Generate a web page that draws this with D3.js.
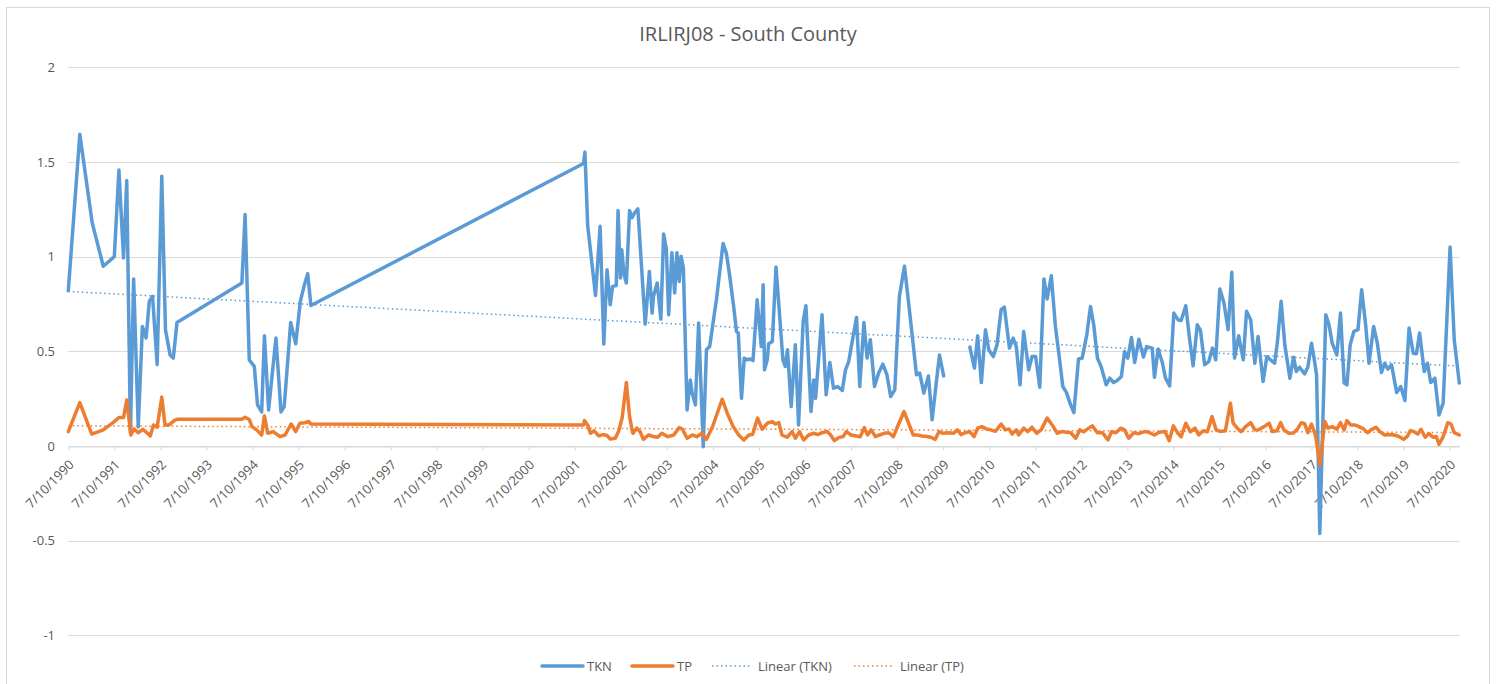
<!DOCTYPE html>
<html>
<head>
<meta charset="utf-8">
<script src="https://cdnjs.cloudflare.com/ajax/libs/d3/7.8.5/d3.min.js"></script>
<style>
body { margin: 0; background: #fff; }
text { font-family: "Open Sans", sans-serif; fill: #595959; }
</style>
</head>
<body>
<svg id="chart" width="1497" height="684"></svg>
<script>
// values, [decimal year, value]
var tkn = [
 [1990.52,0.82],[1990.77,1.646],[1991.04,1.178],[1991.28,0.949],[1991.52,1.0],[1991.62,1.457],[1991.72,0.993],[1991.79,1.402],
 [1991.87,0.07],[1991.94,0.882],[1992.04,0.10],[1992.13,0.631],[1992.21,0.571],[1992.28,0.764],[1992.35,0.79],[1992.45,0.43],
 [1992.55,1.425],[1992.63,0.614],[1992.73,0.481],[1992.80,0.464],[1992.88,0.652],
 [1994.29,0.861],[1994.36,1.222],[1994.45,0.455],[1994.56,0.42],[1994.63,0.217],[1994.72,0.18],[1994.78,0.582],[1994.87,0.19],
 [1995.03,0.57],[1995.14,0.18],[1995.21,0.208],[1995.35,0.652],[1995.46,0.54],[1995.56,0.764],[1995.64,0.843],[1995.72,0.91],[1995.79,0.742],
 [2001.71,1.492],[2001.74,1.552],[2001.80,1.164],[2001.97,0.795],[2002.07,1.16],[2002.15,0.538],[2002.22,0.931],[2002.29,0.746],
 [2002.34,0.843],[2002.42,0.847],[2002.46,1.243],[2002.51,0.887],[2002.54,1.037],[2002.59,0.905],[2002.64,0.861],[2002.71,1.243],
 [2002.76,1.205],[2002.82,1.231],[2002.89,1.252],[2003.05,0.644],[2003.14,0.922],[2003.20,0.702],[2003.23,0.79],[2003.31,0.861],
 [2003.39,0.670],[2003.45,1.12],[2003.51,1.037],[2003.56,0.693],[2003.63,1.02],[2003.69,0.808],[2003.74,1.02],[2003.79,0.869],
 [2003.83,1.002],[2003.88,0.94],[2003.96,0.19],[2004.03,0.349],[2004.07,0.279],[2004.14,0.217],[2004.21,0.649],[2004.31,-0.004],
 [2004.38,0.508],[2004.45,0.525],[2004.60,0.78],[2004.74,1.069],[2004.81,1.02],[2004.88,0.905],[2004.97,0.737],[2005.03,0.605],
 [2005.07,0.596],[2005.14,0.252],[2005.20,0.464],[2005.26,0.455],[2005.33,0.459],[2005.39,0.451],[2005.48,0.772],[2005.57,0.525],
 [2005.61,0.852],[2005.64,0.402],[2005.70,0.455],[2005.73,0.540],[2005.81,0.552],[2005.89,0.945],[2005.97,0.684],[2006.04,0.455],
 [2006.09,0.42],[2006.14,0.508],[2006.22,0.208],[2006.31,0.534],[2006.38,0.111],[2006.48,0.658],[2006.54,0.741],[2006.65,0.182],
 [2006.71,0.349],[2006.75,0.252],[2006.89,0.693],[2006.98,0.270],[2007.06,0.441],[2007.14,0.305],[2007.23,0.314],[2007.33,0.293],
 [2007.40,0.402],[2007.47,0.446],[2007.54,0.543],[2007.64,0.679],[2007.71,0.314],[2007.80,0.652],[2007.87,0.464],[2007.94,0.561],
 [2008.03,0.314],[2008.12,0.385],[2008.21,0.432],[2008.30,0.376],[2008.38,0.261],[2008.47,0.296],[2008.57,0.79],[2008.68,0.949],
 [2008.77,0.755],[2008.87,0.534],[2008.94,0.376],[2009.01,0.385],[2009.10,0.279],[2009.20,0.370],[2009.28,0.138],[2009.37,0.332],
 [2009.44,0.481],[2009.53,0.370],[2009.80,null],
 [2010.10,0.522],[2010.20,0.411],[2010.27,0.582],[2010.35,0.335],[2010.44,0.614],[2010.51,0.508],[2010.61,0.472],[2010.69,0.534],
 [2010.78,0.720],[2010.85,0.734],[2010.96,0.517],[2011.04,0.570],[2011.11,0.525],[2011.19,0.323],[2011.27,0.605],[2011.38,0.402],
 [2011.45,0.472],[2011.53,0.472],[2011.62,0.310],[2011.71,0.882],[2011.78,0.776],[2011.87,0.899],[2011.96,0.631],[2012.06,0.437],
 [2012.12,0.314],[2012.20,0.282],[2012.29,0.217],[2012.36,0.176],[2012.46,0.459],[2012.54,0.464],[2012.64,0.587],[2012.72,0.737],
 [2012.79,0.640],[2012.87,0.464],[2012.95,0.42],[2013.06,0.323],[2013.14,0.358],[2013.22,0.335],[2013.30,0.346],[2013.39,0.367],
 [2013.46,0.499],[2013.53,0.464],[2013.61,0.573],[2013.68,0.441],[2013.77,0.564],[2013.87,0.469],[2013.94,0.525],[2014.06,0.517],
 [2014.11,0.363],[2014.19,0.512],[2014.28,0.441],[2014.35,0.358],[2014.44,0.317],[2014.53,0.702],[2014.62,0.667],[2014.69,0.663],
 [2014.79,0.741],[2014.87,0.570],[2014.95,0.423],[2015.04,0.640],[2015.11,0.610],[2015.20,0.429],[2015.29,0.446],[2015.37,0.517],
 [2015.44,0.455],[2015.53,0.829],[2015.62,0.755],[2015.71,0.614],[2015.79,0.917],[2015.85,0.464],[2015.94,0.582],[2016.04,0.455],
 [2016.11,0.711],[2016.20,0.667],[2016.29,0.437],[2016.36,0.578],[2016.47,0.340],[2016.55,0.472],[2016.63,0.455],[2016.72,0.437],
 [2016.78,0.55],[2016.86,0.764],[2016.94,0.534],[2017.05,0.358],[2017.13,0.469],[2017.19,0.393],[2017.26,0.416],[2017.37,0.381],
 [2017.44,0.416],[2017.52,0.543],[2017.57,0.472],[2017.63,0.376],[2017.70,-0.462],[2017.83,0.693],[2017.90,0.640],[2017.97,0.543],
 [2018.07,0.481],[2018.15,0.702],[2018.23,0.332],[2018.29,0.323],[2018.36,0.534],[2018.44,0.605],[2018.53,0.614],[2018.61,0.825],
 [2018.70,0.631],[2018.77,0.437],[2018.87,0.631],[2018.95,0.543],[2019.04,0.388],[2019.11,0.437],[2019.18,0.406],[2019.26,0.429],
 [2019.37,0.282],[2019.46,0.314],[2019.55,0.240],[2019.64,0.623],[2019.73,0.490],[2019.80,0.487],[2019.87,0.596],[2019.97,0.393],
 [2020.04,0.437],[2020.11,0.335],[2020.20,0.358],[2020.29,0.164],[2020.38,0.226],[2020.53,1.051],[2020.62,0.561],[2020.73,0.332]
];

var tp = [
 [1990.52,0.076],[1990.77,0.229],[1991.03,0.063],[1991.28,0.085],[1991.52,0.129],[1991.62,0.150],[1991.72,0.150],[1991.79,0.243],
 [1991.88,0.058],[1991.95,0.09],[1992.04,0.070],[1992.14,0.088],[1992.24,0.067],[1992.30,0.053],[1992.37,0.111],[1992.45,0.099],
 [1992.55,0.258],[1992.62,0.111],[1992.71,0.111],[1992.82,0.134],[1992.88,0.141],
 [1994.29,0.141],[1994.36,0.152],[1994.45,0.14],[1994.51,0.102],[1994.61,0.085],[1994.72,0.058],[1994.78,0.159],[1994.85,0.067],
 [1994.97,0.076],[1995.12,0.049],[1995.23,0.058],[1995.36,0.116],[1995.46,0.076],[1995.55,0.120],[1995.66,0.123],[1995.74,0.129],[1995.79,0.116],
 [2001.71,0.111],[2001.73,0.134],[2001.80,0.11],[2001.86,0.067],[2001.94,0.08],[2002.04,0.053],[2002.14,0.06],[2002.22,0.055],
 [2002.29,0.037],[2002.40,0.041],[2002.47,0.076],[2002.55,0.15],[2002.64,0.335],[2002.71,0.155],[2002.78,0.067],[2002.87,0.094],
 [2002.94,0.075],[2003.01,0.035],[2003.12,0.058],[2003.22,0.05],[2003.32,0.046],[2003.41,0.067],[2003.54,0.049],[2003.67,0.058],
 [2003.79,0.097],[2003.86,0.088],[2003.96,0.041],[2004.07,0.058],[2004.17,0.049],[2004.28,0.067],[2004.38,0.035],[2004.51,0.1],
 [2004.72,0.247],[2004.83,0.173],[2004.96,0.102],[2005.08,0.058],[2005.19,0.032],[2005.30,0.058],[2005.38,0.06],[2005.49,0.147],
 [2005.59,0.088],[2005.70,0.120],[2005.81,0.129],[2005.88,0.116],[2005.95,0.123],[2006.02,0.058],[2006.13,0.046],[2006.24,0.076],
 [2006.31,0.041],[2006.40,0.076],[2006.49,0.032],[2006.60,0.058],[2006.71,0.067],[2006.80,0.06],[2006.89,0.07],[2007.00,0.076],
 [2007.07,0.06],[2007.16,0.028],[2007.25,0.044],[2007.35,0.05],[2007.42,0.076],[2007.52,0.058],[2007.64,0.053],[2007.72,0.049],
 [2007.81,0.097],[2007.88,0.058],[2007.96,0.085],[2008.05,0.049],[2008.14,0.058],[2008.24,0.067],[2008.34,0.070],[2008.44,0.049],
 [2008.56,0.120],[2008.67,0.182],[2008.77,0.120],[2008.87,0.058],[2008.96,0.058],[2009.06,0.053],[2009.17,0.05],[2009.25,0.046],
 [2009.35,0.035],[2009.43,0.076],[2009.52,0.067],[2009.63,0.07],[2009.74,0.067],[2009.83,0.085],[2009.91,0.06],[2010.00,0.07],
 [2010.10,0.076],[2010.19,0.049],[2010.27,0.094],[2010.36,0.102],[2010.46,0.09],[2010.55,0.085],[2010.66,0.078],[2010.78,0.116],
 [2010.87,0.085],[2010.95,0.09],[2011.02,0.063],[2011.11,0.085],[2011.16,0.058],[2011.27,0.094],[2011.36,0.076],[2011.45,0.099],
 [2011.55,0.067],[2011.65,0.085],[2011.78,0.147],[2011.89,0.111],[2012.00,0.067],[2012.10,0.076],[2012.20,0.072],[2012.29,0.07],
 [2012.40,0.041],[2012.49,0.085],[2012.57,0.075],[2012.66,0.090],[2012.76,0.106],[2012.87,0.070],[2012.98,0.07],[2013.10,0.032],
 [2013.18,0.076],[2013.27,0.07],[2013.38,0.094],[2013.46,0.085],[2013.55,0.041],[2013.66,0.070],[2013.77,0.065],[2013.89,0.076],
 [2013.99,0.072],[2014.11,0.058],[2014.21,0.072],[2014.34,0.076],[2014.43,0.028],[2014.52,0.106],[2014.61,0.07],[2014.69,0.049],
 [2014.79,0.120],[2014.89,0.075],[2014.99,0.094],[2015.07,0.058],[2015.17,0.08],[2015.26,0.075],[2015.36,0.155],[2015.45,0.085],
 [2015.54,0.077],[2015.65,0.08],[2015.76,0.226],[2015.82,0.120],[2015.91,0.094],[2015.99,0.076],[2016.09,0.102],[2016.20,0.123],
 [2016.29,0.085],[2016.37,0.086],[2016.49,0.102],[2016.60,0.120],[2016.67,0.076],[2016.77,0.08],[2016.85,0.123],[2016.92,0.085],
 [2017.03,0.067],[2017.13,0.068],[2017.21,0.088],[2017.30,0.123],[2017.37,0.118],[2017.44,0.070],[2017.52,0.116],[2017.61,0.053],
 [2017.70,-0.101],[2017.81,0.129],[2017.88,0.094],[2017.97,0.102],[2018.07,0.088],[2018.15,0.123],[2018.23,0.085],[2018.29,0.134],
 [2018.37,0.111],[2018.46,0.111],[2018.55,0.102],[2018.65,0.09],[2018.74,0.070],[2018.81,0.085],[2018.92,0.099],[2019.01,0.075],
 [2019.11,0.058],[2019.21,0.06],[2019.32,0.058],[2019.43,0.049],[2019.52,0.035],[2019.60,0.05],[2019.67,0.081],[2019.75,0.075],
 [2019.83,0.063],[2019.90,0.088],[2019.99,0.046],[2020.07,0.065],[2020.16,0.046],[2020.23,0.05],[2020.29,0.009],[2020.38,0.049],
 [2020.48,0.123],[2020.55,0.116],[2020.62,0.070],[2020.73,0.058]
];

var tickYears = [1990,1991,1992,1993,1994,1995,1996,1997,1998,1999,2000,2001,2002,2003,2004,2005,
                 2006,2007,2008,2009,2010,2011,2012,2013,2014,2015,2016,2017,2018,2019,2020];
var yTicks = [-1, -0.5, 0, 0.5, 1, 1.5, 2];
var seriesNames = ["TKN", "TP", "Linear (TKN)", "Linear (TP)"];
var colors = { TKN: "#5b9bd5", TP: "#ed7d31" };

function toDate(t) {
    var y = Math.floor(t),
        s = new Date(y, 0, 1), e = new Date(y + 1, 0, 1);
    return new Date(+s + (t - y) * (e - s));
}

var svg = d3.select('#chart'),
    LEFT = 68.3, RIGHT = 1459.3, TOP = 67.3, BOTTOM = 635.3;

// chart frame
svg.append("rect")
   .attr("x", 6.5).attr("y", 7.5)
   .attr("width", 1483).attr("height", 690)
   .attr("fill", "none").attr("stroke", "#d9d9d9");

var xScale = d3.scaleTime()
    .domain([toDate(tkn[0][0]), toDate(tkn[tkn.length - 1][0])])
    .range([LEFT, RIGHT]);
var yScale = d3.scaleLinear().domain([-1, 2]).range([BOTTOM, TOP]);

// gridlines
svg.append("g").selectAll("line")
   .data(yTicks)
   .enter().append("line")
   .attr("x1", LEFT).attr("x2", RIGHT)
   .attr("y1", function(d) { return Math.round(yScale(d)) + 0.5; })
   .attr("y2", function(d) { return Math.round(yScale(d)) + 0.5; })
   .attr("stroke", "#d9d9d9").attr("stroke-width", 1);

// y labels
svg.append("g").selectAll("text")
   .data(yTicks)
   .enter().append("text")
   .attr("x", 55)
   .attr("y", function(d) { return yScale(d); })
   .attr("dy", "0.35em")
   .attr("text-anchor", "end")
   .style("font-size", "13px")
   .text(function(d) { return d; });

// x axis on the zero line
var fmt = d3.timeFormat("%-m/%-d/%Y");
var tickDates = tickYears.map(function(y) { return new Date(y, 6, 10); });
var xAxis = d3.axisBottom(xScale)
    .tickValues(tickDates)
    .tickFormat(fmt)
    .tickSize(4)
    .tickSizeOuter(0);
var gx = svg.append("g")
    .attr("transform", "translate(0," + (Math.round(yScale(0)) + 0.5) + ")")
    .call(xAxis);
gx.select(".domain").attr("stroke", "#d9d9d9");
gx.selectAll(".tick line").attr("stroke", "#d9d9d9");
gx.selectAll(".tick text")
  .attr("y", 0).attr("dy", 0)
  .attr("text-anchor", "end")
  .attr("transform", "translate(6,19) rotate(-45)")
  .style("font-size", "13px")
  .style("font-family", '"Open Sans", sans-serif')
  .attr("fill", "#595959");

// series lines
var lineGen = d3.line()
    .defined(function(d) { return d[1] !== null; })
    .x(function(d) { return xScale(toDate(d[0])); })
    .y(function(d) { return yScale(d[1]); });

[["TKN", tkn], ["TP", tp]].forEach(function(s) {
    svg.append('path')
       .attr('d', lineGen(s[1]))
       .attr('stroke', colors[s[0]])
       .attr('stroke-width', 3.5)
       .attr('stroke-linejoin', 'round')
       .attr('stroke-linecap', 'round')
       .attr('fill', 'none');
});

// linear trendlines (least squares on date)
function trend(data) {
    var pts = data.filter(function(d) { return d[1] !== null; });
    var n = pts.length, sx = 0, sy = 0, sxx = 0, sxy = 0;
    pts.forEach(function(d) {
        var x = +toDate(d[0]);
        sx += x; sy += d[1]; sxx += x * x; sxy += x * d[1];
    });
    var b = (n * sxy - sx * sy) / (n * sxx - sx * sx),
        a = (sy - b * sx) / n;
    return xScale.domain().map(function(t) { return [t, a + b * (+t)]; });
}
[["TKN", tkn], ["TP", tp]].forEach(function(s) {
    var tl = trend(s[1]);
    svg.append('line')
       .attr('x1', xScale(tl[0][0])).attr('y1', yScale(tl[0][1]))
       .attr('x2', xScale(tl[1][0])).attr('y2', yScale(tl[1][1]))
       .attr('stroke', colors[s[0]])
       .attr('stroke-width', 1.5)
       .attr('stroke-dasharray', '1.5,3');
});

// title
svg.append("text")
   .attr("x", 748).attr("y", 41)
   .attr("text-anchor", "middle")
   .style("font-size", "20px")
   .text("IRLIRJ08 - South County");

// legend
var legend = [
    { name: seriesNames[0], color: colors.TKN, dash: null, x: 542 },
    { name: seriesNames[1], color: colors.TP, dash: null, x: 632 },
    { name: seriesNames[2], color: colors.TKN, dash: "1.5,3", x: 712 },
    { name: seriesNames[3], color: colors.TP, dash: "1.5,3", x: 854 }
];
var lg = svg.append("g").selectAll("g")
    .data(legend)
    .enter().append("g")
    .attr("transform", function(d) { return "translate(" + d.x + ",666)"; });
lg.append("line")
  .attr("x1", 0).attr("x2", function(d) { return d.dash ? 38 : 41; })
  .attr("stroke", function(d) { return d.color; })
  .attr("stroke-width", function(d) { return d.dash ? 1.5 : 3.5; })
  .attr("stroke-linecap", function(d) { return d.dash ? "butt" : "round"; })
  .attr("stroke-dasharray", function(d) { return d.dash; });
lg.append("text")
  .attr("x", function(d) { return d.dash ? 46 : 45; })
  .attr("dy", "0.35em")
  .style("font-size", "13px")
  .text(function(d) { return d.name; });
</script>
</body>
</html>
